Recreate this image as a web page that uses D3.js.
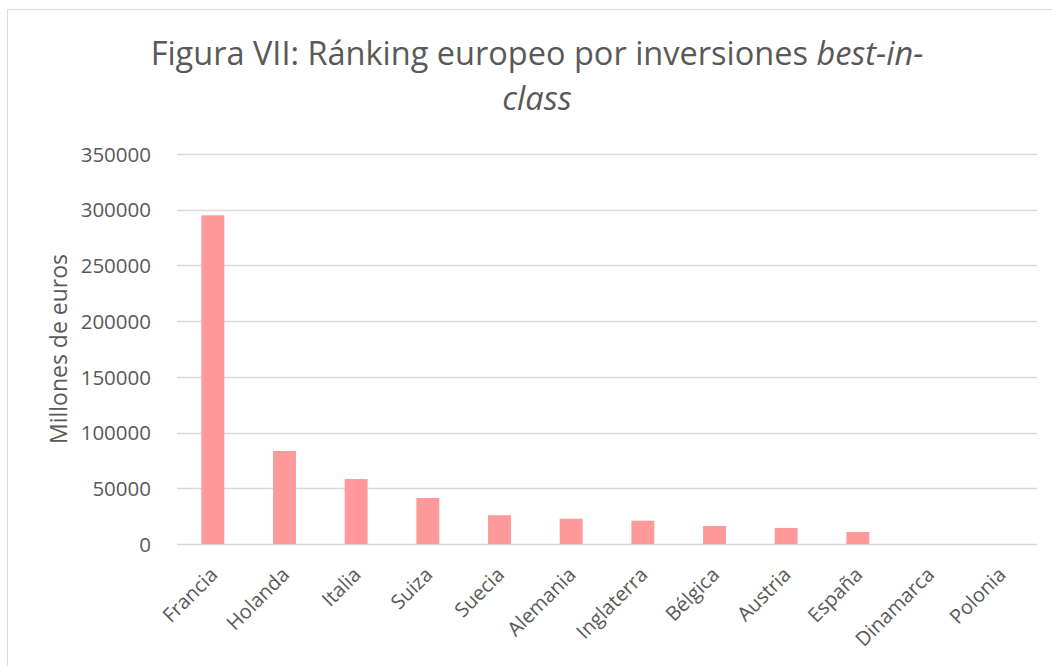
<!DOCTYPE html>
<html>
<head>
<meta charset="utf-8">
<script src="https://cdn.jsdelivr.net/npm/d3@7"></script>
<style>
  body { margin: 0; background: #fff; }
  svg text { font-family: "Open Sans", sans-serif; fill: #595959; }
</style>
</head>
<body>
<div id="chart"></div>
<script>
var paises = ["Francia", "Holanda", "Italia", "Suiza", "Suecia", "Alemania", "Inglaterra", "Bélgica", "Austria", "España", "Dinamarca", "Polonia"];
var inversiones = [295000, 83500, 58300, 41300, 25800, 22700, 20900, 16200, 14400, 10800, 0, 0];
var ticks = [0, 50000, 100000, 150000, 200000, 250000, 300000, 350000];

var w = 1052, h = 666;
var margin = {left: 177, right: 15, top: 154, bottom: 122};

var svg = d3.select("#chart")
  .append("svg")
  .attr("width", w)
  .attr("height", h);

// marco del grafico
svg.append("rect")
  .attr("x", 7.5)
  .attr("y", 9.5)
  .attr("width", w)
  .attr("height", h)
  .attr("fill", "none")
  .attr("stroke", "#d9d9d9");

var x = d3.scaleBand()
  .domain(paises)
  .range([margin.left, w - margin.right])
  .paddingInner(0.68)
  .paddingOuter(0.34);

var y = d3.scaleLinear()
  .domain([0, 350000])
  .range([h - margin.bottom, margin.top]);

// lineas de cuadricula
svg.append("g")
  .selectAll("line")
  .data(ticks)
  .enter()
  .append("line")
    .attr("x1", margin.left)
    .attr("x2", w - margin.right)
    .attr("y1", function(d) { return Math.round(y(d)) + 0.5; })
    .attr("y2", function(d) { return Math.round(y(d)) + 0.5; })
    .attr("stroke", "#d9d9d9")
    .attr("stroke-width", 1.3);

var yAxis = svg.append("g")
  .attr("transform", "translate(" + (margin.left - 23) + ",0)")
  .call(d3.axisLeft(y).tickValues(ticks).tickSize(0).tickFormat(d3.format("d")));
yAxis.select(".domain").remove();
yAxis.selectAll("text")
  .attr("font-size", "20.5px")
  .attr("font-family", "Open Sans")
  .attr("fill", "#595959")
  .attr("dy", "0.35em");

// barras
svg.append("g")
  .selectAll("rect")
  .data(inversiones)
  .enter()
  .append("rect")
    .attr("x", function(d, i) { return x(paises[i]); })
    .attr("width", x.bandwidth())
    .attr("y", function(d) { return y(d); })
    .attr("height", function(d) { return y(0) - y(d); })
    .attr("fill", "#ff999a");

// etiquetas de paises
svg.append("g")
  .selectAll("text")
  .data(paises)
  .enter()
  .append("text")
    .text(function(d) { return d; })
    .attr("transform", function(d) {
      return "translate(" + (x(d) + x.bandwidth() / 2 + 6) + "," + 576 + ") rotate(-45)";
    })
    .attr("text-anchor", "end")
    .attr("font-size", "20px");

// titulo eje
svg.append("text")
  .attr("transform", "translate(67,349) rotate(-90)")
  .attr("text-anchor", "middle")
  .attr("font-size", "23px")
  .text("Millones de euros");

// titulo
var t1 = svg.append("text")
  .attr("x", 537)
  .attr("y", 65)
  .attr("text-anchor", "middle")
  .attr("font-size", "32.5px");
t1.append("tspan").text("Figura VII: Ránking europeo por inversiones ");
t1.append("tspan").attr("font-style", "italic").text("best-in-");

svg.append("text")
  .attr("x", 537)
  .attr("y", 110)
  .attr("text-anchor", "middle")
  .attr("font-size", "32.5px")
  .attr("font-style", "italic")
  .text("class");
</script>
</body>
</html>
